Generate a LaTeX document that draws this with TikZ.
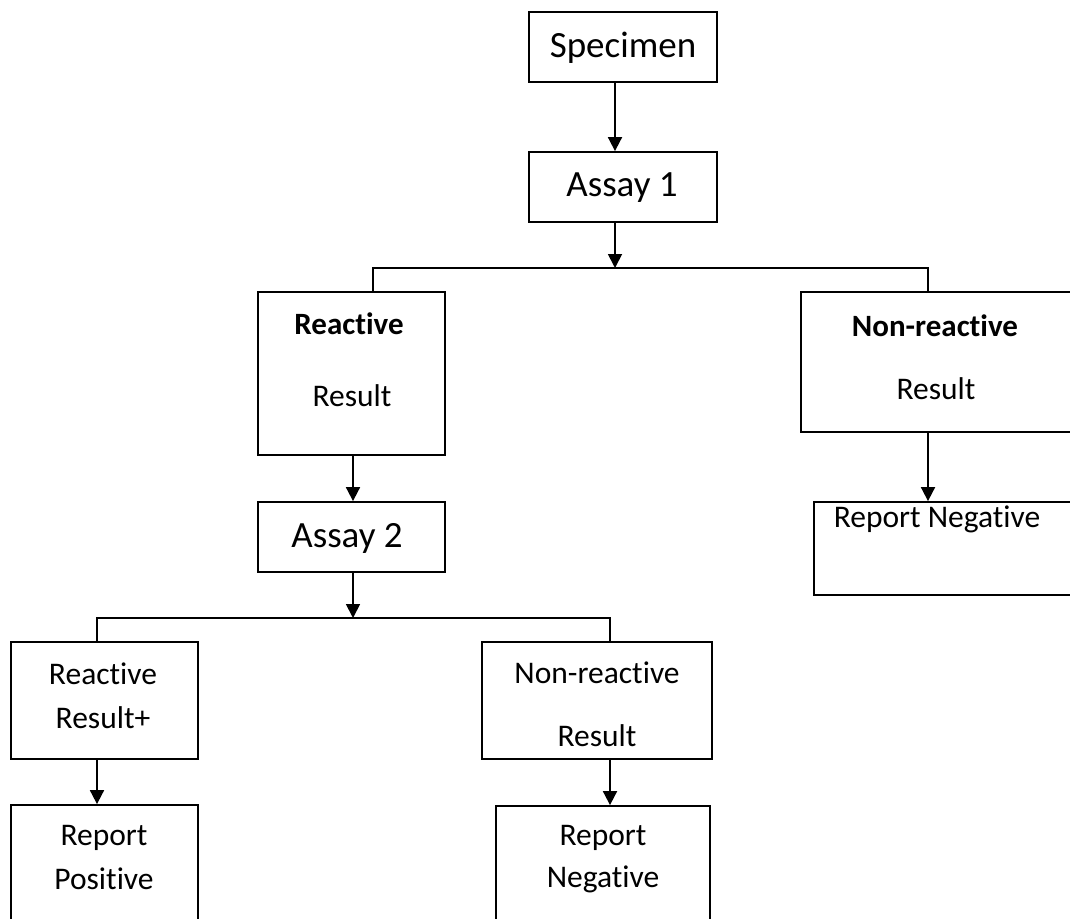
\documentclass[tikz,border=0pt]{standalone}
\usepackage{fontspec}
\setmainfont{Carlito}[Ligatures=NoCommon]
\usetikzlibrary{arrows.meta}
\begin{document}
\begin{tikzpicture}[x=1pt,y=-1pt,
  box/.style={draw=black,line width=1.8pt,rectangle,inner sep=0pt,fill=none},
  big/.style={font=\fontsize{37}{44}\selectfont,inner sep=0pt},
  small/.style={font=\fontsize{31.5}{38}\selectfont,inner sep=0pt},
  smallb/.style={font=\fontsize{31}{38}\selectfont\bfseries,inner sep=0pt},
  line/.style={draw=black,line width=1.8pt},
  arr/.style={line,-{Triangle[length=14pt,width=14pt]}}]
\useasboundingbox (0,0) rectangle (1070,918);
% boxes
\node[box,minimum width=188pt,minimum height=70pt] (spec) at (623,47) {};
\node[big] (spec-t) at (623,48) {Specimen};
\node[box,minimum width=188pt,minimum height=70pt] (a1) at (623,187) {};
\node[big] (a1-t) at (622,188) {Assay 1};
\node[box,minimum width=187pt,minimum height=163pt] (reac) at (351.5,373.5) {};
\node[smallb] (reac-t1) at (349,324) {Reactive};
\node[small] (reac-t2) at (352,396) {Result};
\node[box,minimum width=279pt,minimum height=140pt] (nonr) at (940.5,362) {};
\node[smallb] (nonr-t1) at (935,326) {Non-reactive};
\node[small] (nonr-t2) at (936,389) {Result};
\node[box,minimum width=187pt,minimum height=70pt] (a2) at (351.5,537) {};
\node[big] (a2-t) at (347,538) {Assay 2};
\node[box,minimum width=266pt,minimum height=93pt] (rneg1) at (947,548.5) {};
\node[small] (rneg1-t) at (937,519) {Report Negative};
\node[box,minimum width=187pt,minimum height=117pt] (rr) at (104.5,700.5) {};
\node[small] (rr-t1) at (103,674) {Reactive};
\node[small] (rr-t2) at (103,718) {Result+};
\node[box,minimum width=230pt,minimum height=117pt] (nr2) at (597,700.5) {};
\node[small] (nr2-t1) at (597,673) {Non-reactive};
\node[small] (nr2-t2) at (597,736) {Result};
\node[box,minimum width=187pt,minimum height=125pt] (rpos) at (104.5,867.5) {};
\node[small] (rpos-t1) at (104,838) {Report};
\node[small] (rpos-t2) at (104,879) {Positive};
\node[box,minimum width=214pt,minimum height=124pt] (rneg2) at (603,868) {};
\node[small] (rneg2-t1) at (603,838) {Report};
\node[small] (rneg2-t2) at (603,879) {Negative};
% connector coordinates
\coordinate (c1) at (615,0);
\coordinate (j1) at (615,268);
\coordinate (b1) at (373,0);
\coordinate (b2) at (928,0);
\coordinate (c2) at (353,0);
\coordinate (j2) at (353,618);
\coordinate (b3) at (97,0);
\coordinate (b4) at (610,0);
% connectors
\draw[arr] (c1 |- spec.south) -- (c1 |- a1.north);
\draw[arr] (c1 |- a1.south) -- (j1);
\draw[line] (b1 |- reac.north) |- (j1) -| (b2 |- nonr.north);
\draw[arr] (c2 |- reac.south) -- (c2 |- a2.north);
\draw[arr] (b2 |- nonr.south) -- (b2 |- rneg1.north);
\draw[arr] (c2 |- a2.south) -- (j2);
\draw[line] (b3 |- rr.north) |- (j2) -| (b4 |- nr2.north);
\draw[arr] (b3 |- rr.south) -- (b3 |- rpos.north);
\draw[arr] (b4 |- nr2.south) -- (b4 |- rneg2.north);
\end{tikzpicture}
\end{document}
